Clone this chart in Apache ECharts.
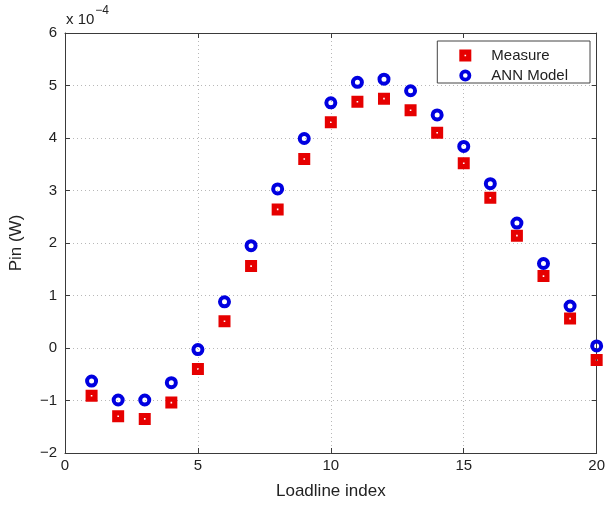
<!DOCTYPE html>
<html>
<head>
<meta charset="utf-8">
<script src="https://cdn.jsdelivr.net/npm/echarts@6/dist/echarts.min.js"></script>
<style>
  html, body { margin: 0; padding: 0; background: #fff; }
  #chart { width: 608px; height: 506px; }
</style>
</head>
<body>
<div id="chart"></div>
<script>
// Loadline index (x) and input power, in units of 1e-4 W
const loadlineIndex = [1, 2, 3, 4, 5, 6, 7, 8, 9, 10, 11, 12, 13, 14, 15, 16, 17, 18, 19, 20];
const measurePin = [-0.91, -1.30, -1.35, -1.04, -0.40, 0.51, 1.56, 2.64, 3.60, 4.30,
                    4.69, 4.75, 4.53, 4.10, 3.52, 2.86, 2.14, 1.37, 0.56, -0.23];
const annPin = [-0.63, -0.99, -0.99, -0.66, -0.03, 0.88, 1.95, 3.03, 3.99, 4.67,
                5.06, 5.12, 4.90, 4.44, 3.84, 3.13, 2.38, 1.61, 0.80, 0.04];
const seriesNames = ['Measure', 'ANN Model'];
const xTicks = [0, 5, 10, 15, 20];
const yTicks = [-2, -1, 0, 1, 2, 3, 4, 5, 6];

const FONT = 'Liberation Sans, Arial, Helvetica, sans-serif';
const AXIS_COLOR = '#3a3a3a';
const GRID_COLOR = '#b8b8b8';
const TEXT_COLOR = '#222';

// Filled square with a small hole in the middle
const squareWithDot = 'path://M0,0 L12,0 L12,12 L0,12 Z M5.2,5.2 L5.2,6.8 L6.8,6.8 L6.8,5.2 Z';
// Thick ring (outer arc clockwise, inner arc counter-clockwise leaves a hole)
const thickRing = 'path://M0,6.5 A6.5,6.5 0 1,1 13,6.5 A6.5,6.5 0 1,1 0,6.5 Z ' +
                  'M4,6.5 A2.5,2.5 0 1,0 9,6.5 A2.5,2.5 0 1,0 4,6.5 Z';

const pairs = (ys) => loadlineIndex.map((x, i) => [x, ys[i]]);

const baseAxis = {
  axisLine: { show: true, onZero: false, lineStyle: { color: AXIS_COLOR, width: 1 } },
  axisTick: { show: true, inside: true, length: 5, lineStyle: { color: AXIS_COLOR } },
  axisLabel: { color: TEXT_COLOR, fontSize: 15, fontFamily: FONT }
};

const chart = echarts.init(document.getElementById('chart'), null, { renderer: 'canvas' });
chart.setOption({
  backgroundColor: '#fff',
  animation: false,
  grid: { left: 65, right: 10, top: 33, bottom: 53, containLabel: false },
  xAxis: [
    Object.assign({}, baseAxis, {
      type: 'value', min: xTicks[0], max: xTicks[xTicks.length - 1], interval: 5,
      position: 'bottom',
      name: 'Loadline index', nameLocation: 'middle', nameGap: 30,
      nameTextStyle: { color: TEXT_COLOR, fontSize: 17, fontFamily: FONT },
      axisLabel: Object.assign({}, baseAxis.axisLabel, { margin: 5 }),
      splitLine: { show: true, lineStyle: { color: GRID_COLOR, type: [1, 3], width: 1 } }
    }),
    Object.assign({}, baseAxis, {
      type: 'value', min: xTicks[0], max: xTicks[xTicks.length - 1], interval: 5,
      position: 'top',
      axisLabel: { show: false }, splitLine: { show: false }
    })
  ],
  yAxis: [
    Object.assign({}, baseAxis, {
      type: 'value', min: yTicks[0], max: yTicks[yTicks.length - 1], interval: 1,
      position: 'left',
      name: 'Pin (W)', nameLocation: 'middle', nameGap: 40, nameRotate: 90,
      nameTextStyle: { color: TEXT_COLOR, fontSize: 17, fontFamily: FONT },
      axisLabel: Object.assign({}, baseAxis.axisLabel, {
        margin: 8,
        formatter: (v) => (v < 0 ? '\u2212' + Math.abs(v) : String(v))
      }),
      splitLine: { show: true, lineStyle: { color: GRID_COLOR, type: [1, 3], width: 1 } }
    }),
    Object.assign({}, baseAxis, {
      type: 'value', min: yTicks[0], max: yTicks[yTicks.length - 1], interval: 1,
      position: 'right',
      axisLabel: { show: false }, splitLine: { show: false }
    })
  ],
  legend: {
    orient: 'vertical',
    right: 18, top: 41,
    padding: [7, 22, 0, 22],
    itemGap: 5,
    itemWidth: 12, itemHeight: 12,
    backgroundColor: '#fff',
    borderColor: '#444', borderWidth: 1,
    textStyle: { color: TEXT_COLOR, fontSize: 15, fontFamily: FONT, padding: [0, 0, 0, 15] },
    data: seriesNames
  },
  graphic: [{
    type: 'text',
    left: 66, top: 5,
    style: {
      text: '{b|x 10}{s|\u22124}',
      rich: {
        b: { fontSize: 15, fontFamily: FONT, fill: TEXT_COLOR, verticalAlign: 'bottom', lineHeight: 22 },
        s: { fontSize: 12, fontFamily: FONT, fill: TEXT_COLOR, verticalAlign: 'top', padding: [0, 0, 8, 1], lineHeight: 14 }
      }
    }
  }],
  series: [
    {
      name: seriesNames[0],
      type: 'scatter',
      xAxisIndex: 0, yAxisIndex: 0,
      symbol: squareWithDot,
      symbolSize: 12,
      itemStyle: { color: '#e60000', opacity: 1 },
      data: pairs(measurePin),
      z: 3
    },
    {
      name: seriesNames[1],
      type: 'scatter',
      xAxisIndex: 0, yAxisIndex: 0,
      symbol: thickRing,
      symbolSize: 13,
      itemStyle: { color: '#0000e0', opacity: 1 },
      data: pairs(annPin),
      z: 4
    }
  ]
});
</script>
</body>
</html>
